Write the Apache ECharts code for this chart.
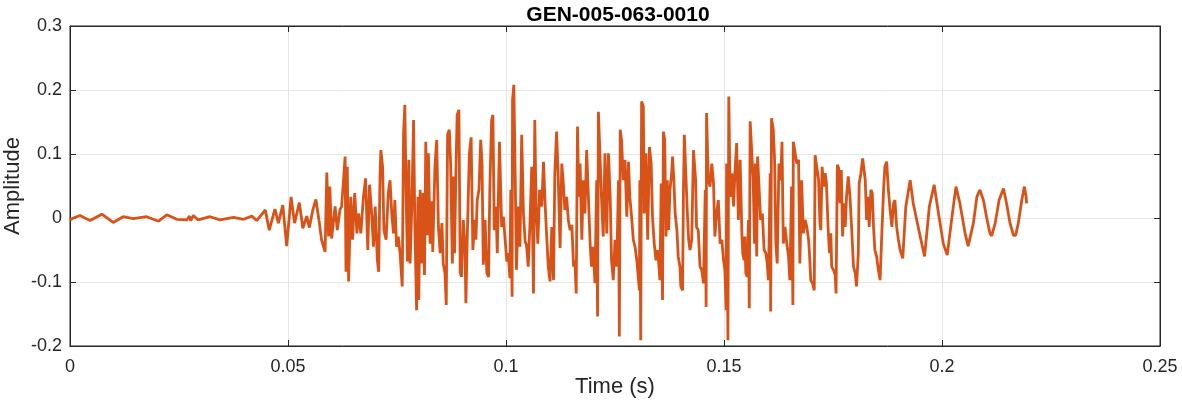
<!DOCTYPE html>
<html>
<head>
<meta charset="utf-8">
<script src="https://cdn.jsdelivr.net/npm/echarts@6/dist/echarts.min.js"></script>
<style>html,body{margin:0;padding:0;background:#fff}#c{width:1182px;height:404px}</style>
</head>
<body>
<div id="c"></div>
<script>
const chartTitle = 'GEN-005-063-0010';
const xTicks = [0, 0.05, 0.1, 0.15, 0.2, 0.25];
const yTicks = [-0.2, -0.1, 0, 0.1, 0.2, 0.3];

// time (s) of each read extreme
const times = [
0,0.0008,0.0023,0.0034,0.0046,0.0073,0.0099,0.0122,0.0145,0.0176,0.0203,0.0222,0.0245,0.0268,0.0274,0.0277,0.0283,0.0294,0.0321,0.0344,0.0375,0.0398,0.0417,0.0428,0.0448,0.0457,
0.0470,0.0478,0.0488,0.0497,0.0507,0.0515,0.0526,0.0534,0.0543,0.0549,0.0557,0.0564,0.0572,0.0577,0.0585,0.0589,0.0593,0.0596,0.0600,0.0608,0.0613,0.0619,
0.0623,0.0631,0.0633,0.0636,0.0639,0.0644,0.0648,0.0653,0.0658,0.0662,0.0667,0.0673,0.0678,0.0683,0.0687,0.0692,0.0696,0.0700,0.0705,0.0708,0.0711,0.0713,0.0717,0.0720,0.0725,0.0730,0.0734,0.0738,0.0742,0.0745,0.0749,0.0753,0.0757,0.0762,0.0765,0.0768,0.0771,0.0774,0.0777,0.0780,0.0784,0.0788,0.0791,0.0795,0.0798,0.0800,
0.0803,0.0807,0.0810,0.0813,0.0816,0.0820,0.0822,0.0826,0.0830,0.0832,0.0837,0.0841,0.0845,0.0849,0.0853,0.0856,0.0860,0.0863,0.0866,0.0870,0.0873,0.0877,0.0879,0.0882,0.0885,0.0888,0.0892,0.0895,0.0898,0.0902,0.0906,0.0908,0.0911,0.0916,0.0920,0.0924,0.0928,0.0931,0.0934,0.0938,0.0942,0.0945,0.0948,0.0952,0.0956,0.0960,0.0963,0.0967,0.0970,0.0973,0.0977,0.0980,0.0985,
0.0990,0.0994,0.0998,0.1002,0.1005,0.1009,0.1011,0.1014,0.1015,0.1018,0.1021,0.1024,0.1028,0.1032,0.1036,0.1040,0.1044,0.1047,0.1051,0.1055,0.1059,0.1063,0.1066,0.1069,0.1073,0.1077,0.1082,0.1086,0.1090,0.1093,0.1097,0.1101,0.1105,0.1109,0.1112,0.1116,0.1120,0.1124,0.1128,0.1132,0.1135,0.1139,0.1143,0.1147,0.1151,0.1155,0.1158,0.1161,0.1164,0.1167,0.1170,
0.1174,0.1177,0.1181,0.1185,0.1189,0.1193,0.1196,0.1200,0.1204,0.1208,0.1210,0.1212,0.1216,0.1219,0.1223,0.1227,0.1231,0.1235,0.1239,0.1242,0.1246,0.1250,0.1254,0.1258,0.1260,0.1262,0.1265,0.1269,0.1273,0.1277,0.1281,0.1284,0.1288,0.1292,0.1296,0.1300,0.1304,0.1306,0.1307,0.1309,0.1311,0.1315,0.1317,0.1321,0.1325,0.1329,0.1333,0.1336,0.1340,0.1344,0.1348,0.1353,
0.1356,0.1359,0.1361,0.1364,0.1367,0.1370,0.1373,0.1376,0.1380,0.1382,0.1385,0.1388,0.1392,0.1395,0.1399,0.1401,0.1405,0.1407,0.1409,0.1413,0.1416,0.1419,0.1422,0.1426,0.1430,0.1432,0.1435,0.1437,0.1441,0.1445,0.1449,0.1453,0.1457,0.1459,0.1460,0.1464,0.1468,0.1472,0.1476,0.1479,0.1483,0.1487,0.1491,0.1495,0.1499,0.1502,0.1505,0.1506,0.1509,0.1511,0.1514,0.1518,0.1522,0.1525,0.1529,0.1533,0.1537,
0.1541,0.1543,0.1546,0.1548,0.1550,0.1553,0.1556,0.1558,0.1560,0.1563,0.1567,0.1570,0.1572,0.1575,0.1577,0.1580,0.1584,0.1588,0.1592,0.1596,0.1599,0.1602,0.1606,0.1607,0.1609,0.1613,0.1616,0.1619,0.1622,0.1626,0.1630,0.1633,0.1636,0.1640,0.1644,0.1648,0.1651,0.1655,0.1658,0.1659,0.1663,0.1667,0.1671,0.1674,0.1678,0.1682,0.1686,0.1690,0.1694,0.1696,0.1699,0.1703,0.1707,0.1709,0.1713,0.1717,0.1720,
0.1722,0.1725,0.1729,0.1732,0.1735,0.1739,0.1742,0.1745,0.1747,0.1751,0.1755,0.1757,0.1760,0.1763,0.1766,0.1769,0.1772,0.1775,0.1778,0.1781,0.1785,0.1789,0.1793,0.1797,0.1801,0.1804,0.1808,0.1810,0.1814,0.1818,0.1821,0.1824,0.1827,0.1830,0.1833,0.1837,0.1840,0.1843,0.1846,0.1850,0.1854,0.1858,0.1862,0.1866,0.1869,0.1873,0.1877,0.1881,0.1885,0.1889,0.1892,0.1896,0.1900,0.1904,
0.1910,0.1917,0.1927,0.1934,0.1942,0.1950,0.1960,0.1971,0.1982,0.1992,0.2003,0.2012,0.2022,0.2032,0.2041,0.2053,0.2060,0.2072,0.2080,0.2087,
0.2089,0.2095,0.2102,0.2110,0.2114,0.2122,0.2131,0.2141,0.2148,0.2156,0.2164,0.2169,0.2175,0.2183,0.2189,0.2193,0.2194
];

// amplitude at each of those times
const amps = [
-0.003,0,0.004,0,-0.004,0.006,-0.007,0.002,-0.001,0.002,-0.005,0.005,-0.002,-0.003,0.003,-0.004,0.004,-0.003,0.002,-0.003,0.001,-0.002,0.003,-0.004,0.0125,-0.019,
0.014,-0.008,0.020,-0.044,0.033,-0.008,0.024,-0.016,0.003,-0.015,0.0125,0.029,-0.008,-0.034,-0.053,0.071,-0.029,0.049,-0.032,0.018,-0.019,0.0125,
0.018,0.096,-0.084,0.080,-0.099,0.033,-0.034,0.039,-0.024,0.007,-0.024,0.033,0.062,-0.050,0.052,0.007,-0.045,0.018,-0.066,-0.084,0.065,0.106,0.080,-0.019,-0.034,0.039,0.059,0.007,-0.024,0.028,-0.045,-0.029,-0.055,-0.107,0.132,0.177,0.033,-0.068,0.091,-0.071,0.018,0.153,-0.014,-0.144,0.033,-0.128,
0.044,-0.071,0.039,-0.089,0.119,-0.027,0.101,-0.040,0.026,-0.053,0.080,0.122,-0.014,-0.055,-0.008,-0.071,-0.086,-0.136,0.130,0.138,0.085,-0.071,0.065,-0.055,0.070,0.161,0.169,-0.086,-0.092,-0.003,-0.045,-0.133,-0.034,0.101,0.126,-0.050,-0.003,-0.034,0.028,0.044,0.122,0.085,-0.073,-0.003,-0.086,-0.092,0.049,0.153,0.161,-0.019,0.018,-0.055,0.119,
-0.014,0.002,-0.034,-0.068,-0.055,-0.094,0.044,-0.123,0.184,0.208,0.070,-0.081,0.018,-0.045,0.130,0.007,-0.037,-0.042,-0.076,-0.008,0.080,-0.118,0.153,0.018,-0.040,0.044,0.018,0.088,0.018,-0.024,-0.076,-0.099,-0.014,-0.097,0.070,0.135,0.059,-0.047,0.085,0.049,0.0125,0.033,-0.003,-0.019,-0.011,-0.076,-0.066,-0.118,0.143,0.033,0.085,
-0.034,0.059,0.007,0.106,0.033,-0.040,-0.076,-0.045,-0.102,0.059,-0.154,0.166,0.164,0.033,-0.029,0.101,-0.024,0.101,0.033,-0.066,-0.097,-0.034,-0.076,0.059,-0.185,0.138,0.122,0.059,0.091,0.002,0.088,0.033,0.002,-0.034,-0.045,-0.066,-0.097,-0.113,0.059,-0.191,0.182,0.174,0.007,0.101,-0.034,0.111,0.085,0.002,-0.040,-0.066,-0.050,-0.097,
0.054,-0.128,0.135,0.122,-0.029,0.059,-0.019,0.044,0.070,0.096,0.059,0.007,-0.019,-0.060,-0.076,-0.107,-0.113,0.044,0.130,0.132,0.007,-0.034,-0.050,-0.034,0.106,0.109,0.059,-0.014,-0.019,-0.076,-0.081,-0.102,0.044,-0.139,0.164,0.059,0.049,0.085,0.054,-0.029,0.007,0.028,-0.040,-0.034,-0.066,-0.081,-0.144,0.085,-0.191,0.190,0.033,0.070,0.018,0.070,0.117,-0.003,0.091,
-0.024,-0.055,-0.066,-0.029,-0.086,-0.092,-0.003,-0.141,0.151,0.148,0.059,-0.040,0.085,-0.060,0.096,0.096,-0.003,0.007,-0.050,-0.055,-0.071,-0.097,0.070,-0.146,0.156,0.138,0.091,-0.040,-0.071,0.085,0.059,0.119,-0.040,-0.014,-0.040,-0.060,-0.097,0.049,-0.136,0.119,0.117,0.085,0.091,-0.071,0.059,-0.024,-0.003,-0.014,-0.034,-0.055,-0.097,-0.102,-0.113,0.098,0.096,0.059,-0.008,
-0.019,0.080,0.049,0.070,0.054,-0.019,-0.055,-0.024,-0.076,-0.081,-0.089,-0.118,0.083,0.078,0.023,0.075,-0.029,0.023,-0.014,0.033,0.065,0.033,-0.019,-0.076,-0.086,-0.107,-0.055,0.054,0.070,0.093,0.091,0.059,-0.003,0.033,-0.014,0.044,0.039,-0.014,-0.050,-0.060,-0.081,-0.097,-0.024,0.044,0.080,0.088,0.044,0.0125,-0.014,0.023,0.028,-0.014,-0.034,-0.050,
-0.063,0.018,0.059,0.023,-0.003,-0.029,-0.060,0.018,0.052,0.007,-0.040,-0.058,-0.003,0.049,0.023,-0.024,-0.044,-0.008,0.033,0.044,
0.043,0.028,0.002,-0.024,-0.028,-0.008,0.028,0.046,0.023,-0.008,-0.027,-0.027,-0.008,0.028,0.049,0.033,0.023
];

const data = times.map((t, i) => [t, amps[i]]);
const axisColor = '#262626';
const gridColor = '#e6e6e6';
const fontFam = 'Liberation Sans, Arial, sans-serif';

const chart = echarts.init(document.getElementById('c'), null, {renderer: 'canvas'});
chart.setOption({
  animation: false,
  title: {
    text: chartTitle, left: 613, top: 0, textAlign: 'center',
    textStyle: {fontSize: 21, fontWeight: 'bold', color: '#000', fontFamily: fontFam}
  },
  grid: {left: 70, right: 22, top: 26, bottom: 58, containLabel: false, outerBoundsMode: 'none',
    show: true, borderColor: axisColor, borderWidth: 1, backgroundColor: '#fff'},
  xAxis: [{
    type: 'value', min: xTicks[0], max: xTicks[xTicks.length - 1], interval: 0.05,
    name: 'Time (s)', nameLocation: 'middle', nameGap: 30, nameMoveOverlap: false,
    nameTextStyle: {fontSize: 22, color: axisColor, fontFamily: fontFam},
    axisLine: {show: true, onZero: false, lineStyle: {color: axisColor}},
    axisTick: {show: true, inside: true, length: 6, lineStyle: {color: axisColor}},
    axisLabel: {fontSize: 18, color: axisColor, margin: 12, fontFamily: fontFam},
    splitLine: {show: true, lineStyle: {color: gridColor, width: 1}}
  }, {
    type: 'value', position: 'top', min: xTicks[0], max: xTicks[xTicks.length - 1], interval: 0.05,
    axisLine: {show: true, onZero: false, lineStyle: {color: axisColor}},
    axisTick: {show: true, inside: true, length: 6, lineStyle: {color: axisColor}},
    axisLabel: {show: false}, splitLine: {show: false}
  }],
  yAxis: [{
    type: 'value', min: yTicks[0], max: yTicks[yTicks.length - 1], interval: 0.1,
    name: 'Amplitude', nameLocation: 'middle', nameGap: 46, nameRotate: 90, nameMoveOverlap: false,
    nameTextStyle: {fontSize: 22, color: axisColor, fontFamily: fontFam},
    axisLine: {show: true, onZero: false, lineStyle: {color: axisColor}},
    axisTick: {show: true, inside: true, length: 6, lineStyle: {color: axisColor}},
    axisLabel: {fontSize: 18, color: axisColor, margin: 8, fontFamily: fontFam,
      formatter: v => String(Math.round(v * 10) / 10)},
    splitLine: {show: true, lineStyle: {color: gridColor, width: 1}}
  }, {
    type: 'value', position: 'right', min: yTicks[0], max: yTicks[yTicks.length - 1], interval: 0.1,
    axisLine: {show: true, onZero: false, lineStyle: {color: axisColor}},
    axisTick: {show: true, inside: true, length: 6, lineStyle: {color: axisColor}},
    axisLabel: {show: false}, splitLine: {show: false}
  }],
  series: [{
    type: 'line', data: data, showSymbol: false, symbol: 'none', smooth: false,
    lineStyle: {color: '#D95319', width: 2.8}, clip: true
  }]
});
</script>
</body>
</html>
